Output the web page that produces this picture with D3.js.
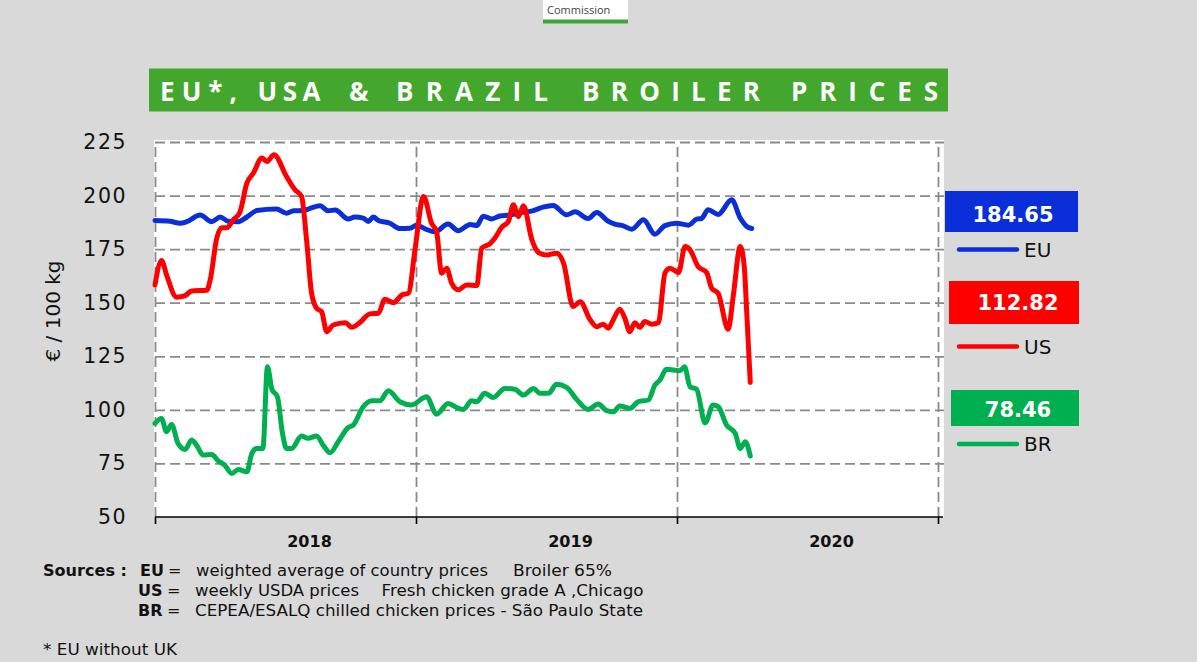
<!DOCTYPE html>
<html><head><meta charset="utf-8">
<script src="https://cdn.jsdelivr.net/npm/d3@7"></script>
<style>
body{margin:0;background:#d9d9d9;}
svg{display:block;}
</style></head>
<body>
<svg id="chart" width="1197" height="662"></svg>
<script>
// ---------- DATA ----------
const years = ["2018", "2019", "2020"];
const yearStartWeeks = [0, 52, 104, 156];
const yTicks = [50, 75, 100, 125, 150, 175, 200, 225];
const seriesNames = ["EU", "US", "BR"];
const latestValues = ["184.65", "112.82", "78.46"];

// [weeks since 1 Jan 2018, €/100kg]
const euData = [
 [0,188.4],[3.0,188],[5.0,187.1],[6.3,187.8],[9.0,190.9],[11.3,187.8],[13.0,190],[14.6,188],
 [16.6,187.8],[18.3,190],[20.3,193],[24.2,193.7],[26.2,191.8],[27.6,192.9],[29.5,193],[30.9,194],
 [32.9,195.2],[34.5,192.9],[35.9,193.3],[38.5,189.1],[39.8,190],[41.5,189.5],[42.5,187.9],[43.5,190],
 [44.5,188.4],[46.8,187.1],[48.8,184.6],[50.8,184.7],[52.1,186.2],[53.8,184.5],[55.8,183.1],[58.4,186.7],
 [60.4,183.6],[62.8,186.5],[64.1,186],[65.4,190.4],[67.1,189.1],[68.7,190.5],[70.7,190.9],[72.7,192],
 [75.4,193],[77.3,194.6],[79.3,195.4],[82.0,191],[83.7,192.4],[86.3,189.3],[88.0,192.1],[90.3,188],
 [91.6,186.7],[93.3,185.9],[95.0,184.3],[97.3,188.7],[99.6,182],[101.6,186],[103.9,187.1],[106.3,186.2],
 [107.9,189],[108.9,189.3],[110.2,193.4],[112.2,191.2],[114.9,198],[116.6,189.5],[117.9,185.6],[118.9,184.65]
];
const usData = [
 [0,158.3],[1.3,169.7],[2.3,163],[4.3,152.6],[6.0,153.3],[7.3,155.5],[10.3,155.8],[11.0,160.6],
 [12.3,180.1],[13.3,185],[14.3,185],[15.6,188.7],[16.9,192.1],[18.3,205.8],[19.6,210.5],[21.3,217.5],
 [22.3,215.9],[23.7,219.1],[26.2,208.9],[27.9,202.7],[29.2,199.6],[30.2,179.3],[31.2,154.4],[32.2,147.4],
 [33.2,145.8],[34.2,136.5],[35.5,139.6],[37.9,140.7],[39.2,138.5],[40.8,140.7],[42.8,144.8],[44.5,145.1],
 [45.8,151.6],[47.5,150],[49.2,153.6],[50.5,154.5],[51.8,174.7],[53.5,199.6],[55.1,187.1],[56.1,183.2],
 [57.1,163.8],[58.1,166.1],[59.1,159.1],[60.4,156],[62.1,158.3],[64.1,158],[65.1,175.4],[66.7,177.5],
 [67.7,180.1],[69.1,185.3],[70.4,187.9],[71.4,195.7],[72.4,190.2],[73.4,195.2],[75.1,179.3],[76.4,173.4],
 [78.0,172.3],[80.0,173.1],[81.4,168.5],[83.3,148.2],[84.7,150.5],[86.7,142],[88.0,138.8],[89.3,140],
 [90.3,138.1],[91.3,142],[92.6,147],[93.6,142.8],[94.6,136.5],[95.6,140.7],[96.6,138.5],[97.6,141.2],
 [99.0,140],[100.3,140.7],[101.6,163.8],[102.6,166.1],[104.3,164.1],[105.6,176.2],[106.6,174.7],[108.2,166.9],
 [109.9,164.1],[110.9,156.8],[112.2,154.4],[114.2,137.6],[115.2,152.9],[116.6,176.2],[117.4,166.9],[117.9,145.1],
 [118.6,112.82]
];
const brData = [
 [0,93.7],[1.3,96],[2.3,89.8],[3.3,93.2],[4.6,84.3],[6.0,81.5],[7.3,85.9],[8.3,83.5],
 [9.6,78.9],[11.3,79.2],[12.6,76.2],[13.9,74.2],[15.3,70.3],[16.6,72.2],[18.3,71.1],[19.3,79.7],
 [20.3,82],[21.5,82],[22.4,120.1],[23.3,109.6],[24.4,106.1],[25.4,89],[26.2,82],[27.2,82],
 [29.2,87.8],[30.5,86.7],[32.2,87.8],[33.5,83.5],[34.9,80],[36.5,85.1],[38.5,91.8],[39.5,92.9],
 [41.5,101.5],[43.2,104.2],[44.8,104.2],[46.5,108.9],[48.8,103.8],[51.1,102.3],[54.1,106.1],[56.1,98],
 [58.4,103],[60.1,101.1],[61.4,100.2],[63.1,104.2],[64.1,103.8],[65.7,107.7],[67.4,105.8],[69.7,110],
 [71.7,109.6],[73.4,106.9],[75.4,110],[76.7,107.7],[78.4,107.7],[80.0,111.9],[82.0,110.5],[84.0,104.9],
 [86.3,100.2],[88.3,102.7],[90.0,99.6],[91.3,99.1],[92.6,101.8],[94.6,100.7],[96.3,103.8],[98.3,104.6],
 [99.6,111.6],[100.6,113.9],[101.9,118.9],[104.6,118.3],[105.5,120.1],[106.6,110.8],[107.9,109.6],[109.6,93.9],
 [111.2,102.3],[112.2,101.5],[113.9,92.9],[115.6,89],[116.6,82],[117.6,85.1],[118.6,78.46]
];
const seriesData = [euData, usData, brData];
const seriesColors = ["#0a2fd8", "#ff0000", "#00b050"];

// ---------- CHART ----------
const svg = d3.select("#chart");
const W = 1197, H = 662;
svg.append("rect").attr("width", W).attr("height", H).attr("fill", "#d9d9d9");

// logo fragment
svg.append("rect").attr("x", 543).attr("y", 0).attr("width", 85).attr("height", 20).attr("fill", "#fff");
svg.append("rect").attr("x", 543).attr("y", 19.5).attr("width", 85).attr("height", 4).attr("fill", "#3fa535");
svg.append("text").attr("x", 547).attr("y", 13.5).attr("font-family", "Open Sans, sans-serif")
  .attr("font-size", 11).attr("fill", "#444").text("Commission");

// title banner
svg.append("rect").attr("x", 149).attr("y", 68.5).attr("width", 799).attr("height", 43).attr("fill", "#42a72c");
const titleWords = [["EU*,", 160, 77], ["USA", 257.5, 63], ["&", 349, 0], ["BRAZIL", 396, 152], ["BROILER", 582, 178], ["PRICES", 791, 147]];
titleWords.forEach(([w, x, len]) => {
  const t = svg.append("text").attr("x", x).attr("y", 101).attr("fill", "#fff")
    .attr("font-family", "Open Sans, sans-serif").attr("font-weight", 700).attr("font-size", 26).text(w);
  if (len) t.attr("textLength", len).attr("lengthAdjust", "spacing");
});

// plot area
const x = d3.scaleLinear().domain([0, 156]).range([155, 938]);
const y = d3.scaleLinear().domain([50, 225]).range([517, 142]);

svg.append("rect").attr("x", 154).attr("y", 140).attr("width", 790).attr("height", 377).attr("fill", "#fff");

// horizontal grid
const gridY = svg.append("g").attr("transform", "translate(155,0)")
  .call(d3.axisRight(y).tickValues(yTicks.slice(1)).tickSize(789).tickFormat(""));
gridY.select(".domain").remove();
gridY.selectAll("line").attr("stroke", "#8a8a8a").attr("stroke-width", 1.8).attr("stroke-dasharray", "10,5");

// vertical grid
const gridX = svg.append("g").attr("transform", "translate(0,517)")
  .call(d3.axisTop(x).tickValues(yearStartWeeks).tickSize(375).tickFormat(""));
gridX.select(".domain").remove();
gridX.selectAll("line").attr("stroke", "#8a8a8a").attr("stroke-width", 1.8).attr("stroke-dasharray", "10,5");

// y axis labels
const yAxis = svg.append("g").attr("transform", "translate(155,0)")
  .call(d3.axisLeft(y).tickValues(yTicks).tickSize(0).tickPadding(28));
yAxis.select(".domain").remove();
yAxis.selectAll("text").attr("font-family", "DejaVu Sans, sans-serif").attr("font-size", 20.5)
  .attr("letter-spacing", "1.5px").attr("fill", "#111");

// x axis
const xAxis = svg.append("g").attr("transform", "translate(0,517)")
  .call(d3.axisBottom(x).tickValues(yearStartWeeks).tickSizeInner(7).tickSizeOuter(0).tickFormat(""));
xAxis.select(".domain").attr("stroke", "#000").attr("stroke-width", 1.6).attr("d", "M155,0H943");
xAxis.selectAll(".tick line").attr("stroke", "#000").attr("stroke-width", 1.6);

years.forEach((yr, i) => {
  const cx = (x(yearStartWeeks[i]) + x(yearStartWeeks[i + 1])) / 2 + 24;
  svg.append("text").attr("x", cx).attr("y", 546.5).attr("text-anchor", "middle")
    .attr("font-family", "DejaVu Sans, sans-serif").attr("font-weight", 700).attr("font-size", 16)
    .attr("fill", "#111").text(yr);
});

// y title
svg.append("text").attr("transform", "translate(60,311) rotate(-90)").attr("text-anchor", "middle")
  .attr("font-family", "DejaVu Sans, sans-serif").attr("font-size", 20).attr("fill", "#111").text("€ / 100 kg");

// lines
const line = d3.line().x(d => x(d[0])).y(d => y(d[1])).curve(d3.curveMonotoneX);
[0, 2, 1].forEach(i => {
  svg.append("path").datum(seriesData[i]).attr("d", line).attr("fill", "none")
    .attr("stroke", seriesColors[i]).attr("stroke-width", 5)
    .attr("stroke-linejoin", "round").attr("stroke-linecap", "round");
});

// right legend
const boxes = [
  {x: 945, y: 191, w: 133, h: 41, tx: 1013, ty: 222, ly: 249.5, lty: 256.5},
  {x: 949, y: 281, w: 130, h: 43, tx: 1018, ty: 310, ly: 346.5, lty: 353.5},
  {x: 951, y: 390, w: 128, h: 36, tx: 1018, ty: 417, ly: 444, lty: 451}
];
boxes.forEach((b, i) => {
  svg.append("rect").attr("x", b.x).attr("y", b.y).attr("width", b.w).attr("height", b.h).attr("fill", seriesColors[i]);
  svg.append("text").attr("x", b.tx).attr("y", b.ty).attr("text-anchor", "middle").attr("fill", "#fff")
    .attr("font-family", "DejaVu Sans, sans-serif").attr("font-weight", 700).attr("font-size", 21)
    .text(latestValues[i]);
  svg.append("line").attr("x1", 959).attr("x2", 1017).attr("y1", b.ly).attr("y2", b.ly)
    .attr("stroke", seriesColors[i]).attr("stroke-width", 4.5).attr("stroke-linecap", "round");
  svg.append("text").attr("x", 1024).attr("y", b.lty).attr("fill", "#111")
    .attr("font-family", "DejaVu Sans, sans-serif").attr("font-size", 20).text(seriesNames[i]);
});

// sources
const fontF = "DejaVu Sans, sans-serif";
function txt(str, xx, yy, opts = {}) {
  const t = svg.append("text").attr("x", xx).attr("y", yy).attr("font-family", fontF)
    .attr("font-size", opts.size || 16).attr("fill", "#111").text(str);
  if (opts.bold) t.attr("font-weight", 700);
  if (opts.len) t.attr("textLength", opts.len).attr("lengthAdjust", "spacingAndGlyphs");
  return t;
}
txt("Sources :", 43, 576, {bold: true, len: 84});
txt("EU", 140, 576, {bold: true});
txt("=", 168, 576);
txt("weighted average of country prices", 196, 576, {len: 292});
txt("Broiler 65%", 513, 576, {len: 99});
txt("US", 138, 596, {bold: true});
txt("=", 167, 596);
txt("weekly USDA prices", 195, 596, {len: 164});
txt("Fresh chicken grade A ,Chicago", 381.5, 596, {len: 262});
txt("BR", 138, 616, {bold: true});
txt("=", 167, 616);
txt("CEPEA/ESALQ chilled chicken prices - São Paulo State", 195, 616, {len: 448});
txt("* EU without UK", 43, 655, {len: 134});
</script>
</body></html>
